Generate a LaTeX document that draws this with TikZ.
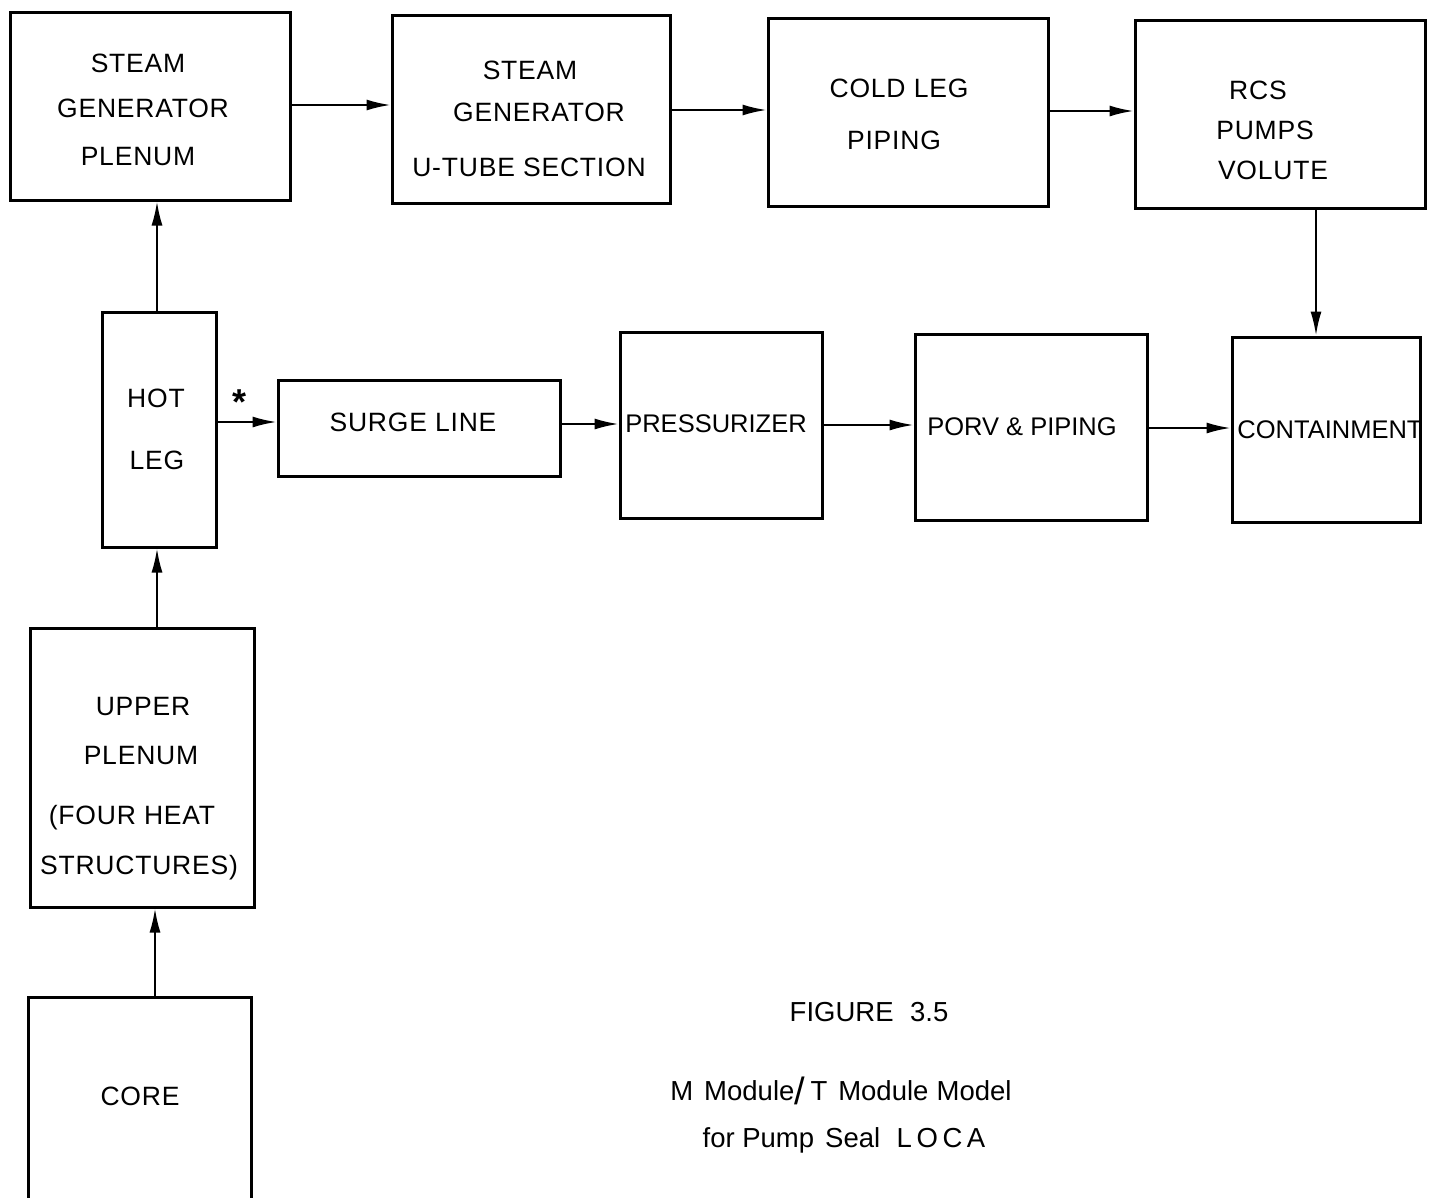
\documentclass[tikz,border=0pt]{standalone}
\usepackage{fontspec}
\setmainfont{Liberation Sans}
\usetikzlibrary{arrows.meta}
\begin{document}
\begin{tikzpicture}[x=1pt,y=-1pt,
  blk/.style={draw,line width=3pt,inner sep=0pt},
  lbl/.style={font=\fontsize{26.5}{30}\selectfont\addfontfeature{LetterSpace=3},inner sep=0pt,anchor=center},
  lbln/.style={font=\fontsize{25.5}{30}\selectfont,inner sep=0pt,anchor=center},
  conn/.style={line width=2pt,-{Latex[length=24pt,width=11pt]}},
  captxt/.style={font=\fontsize{27.5}{30}\selectfont,inner sep=0pt,anchor=base}]
\useasboundingbox (0,0) rectangle (1435,1197);
% boxes
\node[blk,minimum width=280pt,minimum height=188pt] (sgp) at (150,106) {};
\node[blk,minimum width=278pt,minimum height=188pt] (sgu) at (531,109) {};
\node[blk,minimum width=280pt,minimum height=188pt] (cl) at (908,112) {};
\node[blk,minimum width=290pt,minimum height=188pt] (rcs) at (1280,114) {};
\node[blk,minimum width=114pt,minimum height=235pt] (hl) at (159,429.5) {};
\node[blk,minimum width=282pt,minimum height=96pt] (sl) at (419,428) {};
\node[blk,minimum width=202pt,minimum height=186pt] (pz) at (721,425) {};
\node[blk,minimum width=232pt,minimum height=186pt] (porv) at (1031,427) {};
\node[blk,minimum width=188pt,minimum height=185pt] (ct) at (1326,429.5) {};
\node[blk,minimum width=224pt,minimum height=279pt] (up) at (142,767.5) {};
\coordinate (coreTL) at (28,997);
\coordinate (coreTR) at (251,997);
\draw[line width=3pt] (28,1200) -- (coreTL) -- (coreTR) -- (251,1200);
\coordinate (coretop) at (155,997);
% labels
\node[lbl] (t1) at (138,63) {STEAM};
\node[lbl] (t2) at (143,108) {GENERATOR};
\node[lbl] (t3) at (138,157) {PLENUM};
\node[lbl] (t4) at (530,70) {STEAM};
\node[lbl] (t5) at (539,112) {GENERATOR};
\node[lbl] (t6) at (529,167) {U-TUBE SECTION};
\node[lbl] (t7) at (899,88) {COLD LEG};
\node[lbl] (t8) at (894,140) {PIPING};
\node[lbl] (t9) at (1258,90) {RCS};
\node[lbl] (t10) at (1265,130) {PUMPS};
\node[lbl] (t11) at (1273,170) {VOLUTE};
\node[lbl] (t12) at (156,398) {HOT};
\node[lbl] (t13) at (157,460) {LEG};
\node[lbl] (t14) at (413,422) {SURGE LINE};
\node[lbln] (t15) at (716,424) {PRESSURIZER};
\node[lbln] (t16) at (1022,427) {PORV \& PIPING};
\node[lbln] (t17) at (1330,430) {CONTAINMENT};
\node[lbl] (t18) at (143,707) {UPPER};
\node[lbl] (t19) at (141,756) {PLENUM};
\node[lbl] (t20) at (132,818) {(FOUR HEAT};
\node[lbl] (t21) at (139,868) {STRUCTURES)};
\node[lbl] (t22) at (140,1096) {CORE};
\node[font=\fontsize{36}{40}\selectfont\bfseries,inner sep=0pt] (ast) at (240,402) {*};
% caption
\node[captxt] (c1) at (869,1021) {FIGURE\hspace{0.6em}3.5};
\node[captxt] (c2) at (841,1100) {M\hspace{0.4em}Module\raisebox{-4pt}{\fontsize{38}{40}\selectfont/}\hspace{0.2em}T\hspace{0.4em}Module\hspace{0.3em}Model};
\node[captxt] (c3) at (844,1147) {for Pump\hspace{0.4em}Seal\hspace{0.6em}L\,O\,C\,A};
% connectors
\draw[conn] (sgp.east |- 0,105) -- (sgu.west |- 0,105);
\draw[conn] (sgu.east |- 0,110) -- (cl.west |- 0,110);
\draw[conn] (cl.east |- 0,111) -- (rcs.west |- 0,111);
\draw[conn] (rcs.south -| 1316,0) -- (ct.north -| 1316,0);
\draw[conn] (hl.north -| 157,0) -- (sgp.south -| 157,0);
\draw[conn] (hl.east |- 0,422) -- (sl.west |- 0,422);
\draw[conn] (sl.east |- 0,424) -- (pz.west |- 0,424);
\draw[conn] (pz.east |- 0,425) -- (porv.west |- 0,425);
\draw[conn] (porv.east |- 0,428) -- (ct.west |- 0,428);
\draw[conn] (up.north -| 157,0) -- (hl.south -| 157,0);
\draw[conn] (coretop) -- (up.south -| 155,0);
\end{tikzpicture}
\end{document}
